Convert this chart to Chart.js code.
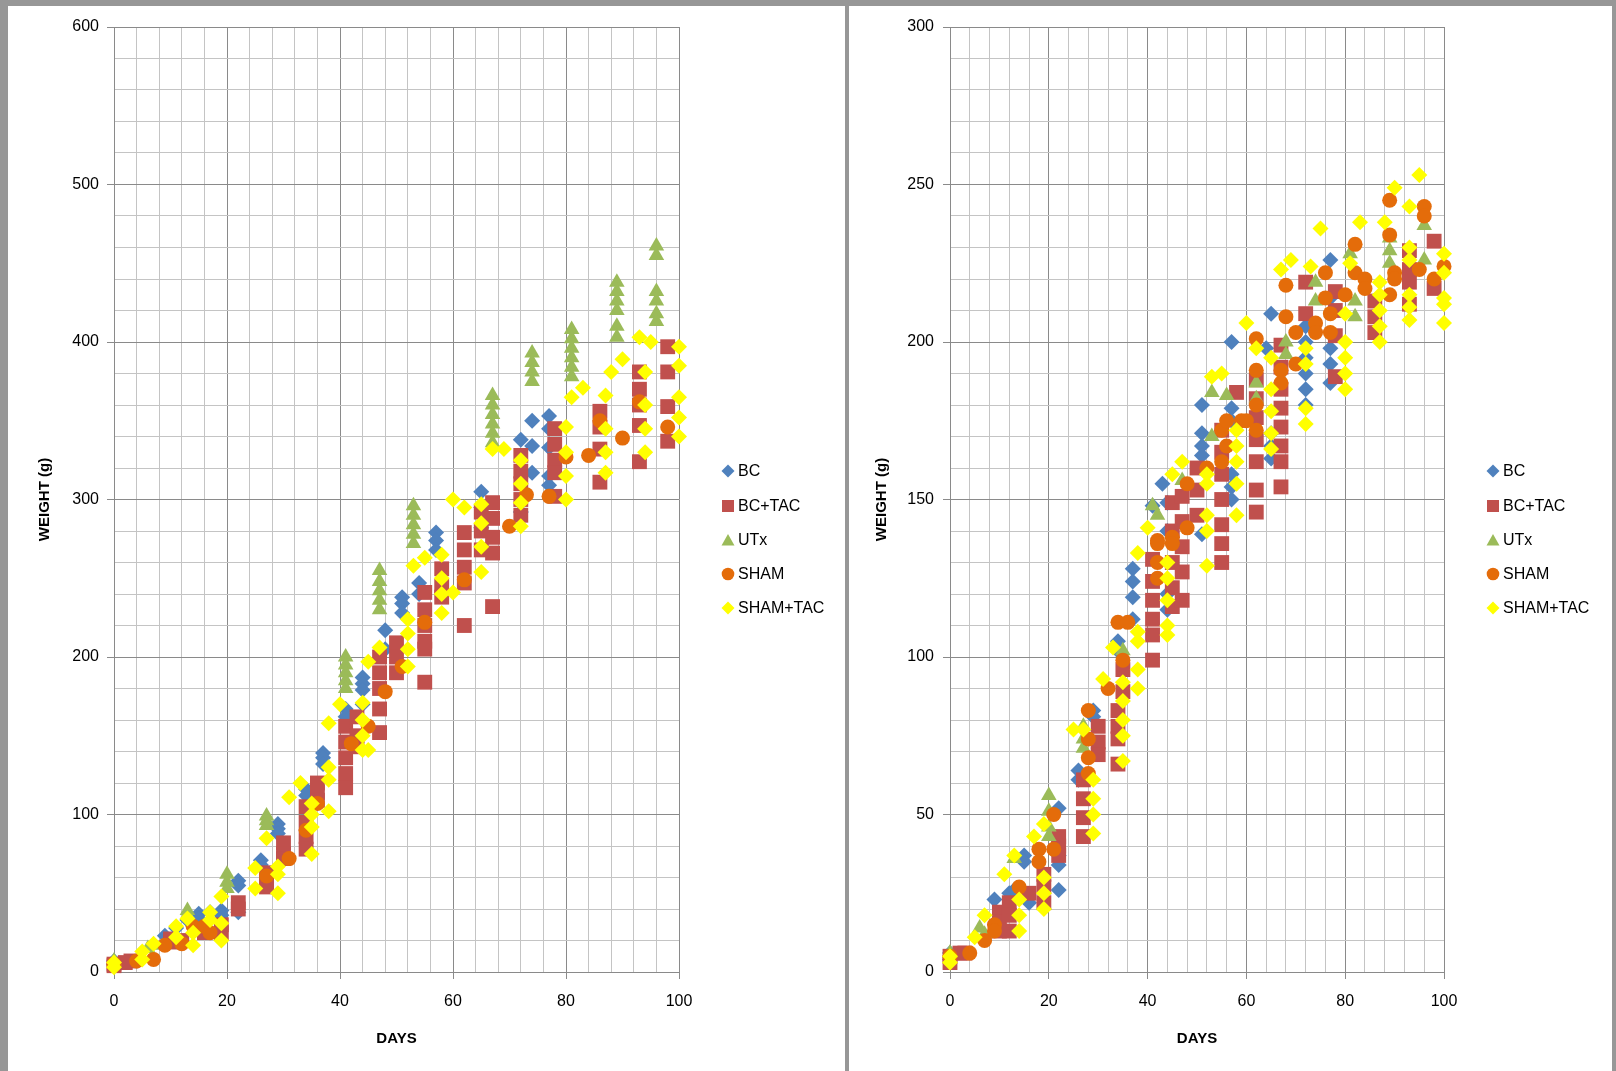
<!DOCTYPE html>
<html>
<head>
<meta charset="utf-8">
<script src="https://cdn.jsdelivr.net/npm/chart.js@4.4.1/dist/chart.umd.min.js"></script>
<style>
  body { margin: 0; background: #979797; width: 1616px; height: 1071px; overflow: hidden; font-family: "Liberation Sans", Arial, sans-serif; }
  .panel { position: absolute; background: #fff; }
  .legend { position: absolute; font-size: 16px; color: #000; }
  .legend .item { position: absolute; left: 0; height: 20px; line-height: 20px; white-space: nowrap; }
  .legend svg { position: absolute; left: -7px; top: 3px; }
  .legend span { position: absolute; left: 10px; }
</style>
</head>
<body>
<div class="panel" id="panelL" style="left:8px;top:6px;width:837px;height:1065px">
  <canvas id="chartL" width="837" height="1065"></canvas>
  <div class="legend" id="legendL" style="left:720px;top:0"></div>
</div>
<div class="panel" id="panelR" style="left:849px;top:6px;width:763px;height:1065px">
  <canvas id="chartR" width="763" height="1065"></canvas>
  <div class="legend" id="legendR" style="left:644px;top:0"></div>
</div>
<script>
// series names
const seriesNames = ['BC', 'BC+TAC', 'UTx', 'SHAM', 'SHAM+TAC'];

// left chart: [day, weight g]
const leftBC = [[0,5],[0,7],[9,23],[11,28],[13,33],[15,37],[15,34],[17,38],[19,39],[19,36],[22,58],[22,55],[22,38],
  [26,71],[26,68],[29,94],[29,91],[29,88],[34,116],[34,112],[35,108],[37,139],[37,136],[37,132],[41,167],[41,162],
  [44,187],[44,183],[44,179],[44,170],[48,217],[48,205],[51,238],[51,234],[51,228],[54,247],[54,240],[57,279],[57,274],
  [57,268],[65,305],[65,295],[65,282],[72,338],[72,292],[74,350],[74,334],[74,317],[77,353],[77,345],[77,333],[77,315],[77,309]];
const leftBCTAC = [[0,5],[0,4],[2,6],[3,7],[10,19],[10,21],[12,20],[16,27],[16,25],[19,25],[19,30],[22,44],[22,40],
  [27,63],[27,58],[27,54],[30,82],[30,75],[30,72],[34,105],[34,95],[34,86],[34,78],[36,120],[36,114],[36,109],
  [41,156],[41,146],[41,136],[41,126],[41,117],[43,162],[43,150],[43,143],[47,200],[47,190],[47,180],[47,167],[47,152],
  [50,209],[50,200],[50,190],[55,241],[55,230],[55,220],[55,210],[55,205],[55,184],[58,256],[58,245],[58,238],
  [62,279],[62,268],[62,257],[62,247],[62,220],[65,292],[65,280],[65,268],[67,298],[67,288],[67,276],[67,266],[67,232],
  [72,328],[72,318],[72,310],[72,300],[72,290],[78,345],[78,335],[78,325],[78,317],[78,302],[86,356],[86,346],[86,332],[86,311],
  [93,381],[93,370],[93,360],[93,347],[93,324],[98,397],[98,381],[98,359],[98,337]];
const leftUTx = [[0,7],[6,15],[7,17],[13,39],[13,36],[20,62],[20,57],[20,53],[27,99],[27,96],[27,93],
  [41,200],[41,195],[41,190],[41,185],[41,180],[47,255],[47,248],[47,242],[47,236],[47,230],
  [53,296],[53,290],[53,284],[53,278],[53,272],[67,366],[67,360],[67,354],[67,348],[67,342],[67,336],
  [74,393],[74,387],[74,381],[74,375],[81,408],[81,402],[81,396],[81,390],[81,384],[81,378],
  [89,438],[89,432],[89,426],[89,420],[89,410],[89,403],[96,461],[96,455],[96,432],[96,426],[96,418],[96,413]];
const leftSHAM = [[0,5],[4,7],[7,8],[9,17],[12,18],[14,29],[16,29],[17,25],[27,61],[31,72],[34,90],[36,107],
  [42,145],[45,156],[48,178],[51,194],[55,222],[62,249],[70,283],[73,303],[77,302],[80,327],[84,328],[86,350],
  [90,339],[93,362],[98,346]];
const leftShamTac = [[0,3],[0,6],[5,8],[5,13],[7,18],[11,22],[11,29],[13,34],[14,25],[14,17],[17,38],[17,33],
  [19,48],[19,31],[19,20],[25,66],[25,53],[27,85],[29,67],[29,62],[29,50],[31,111],[33,120],[35,107],[35,100],
  [35,92],[35,75],[38,158],[38,130],[38,122],[38,102],[40,170],[44,171],[44,160],[44,150],[44,141],[45,197],
  [45,141],[47,206],[52,224],[52,215],[52,205],[52,194],[53,258],[55,263],[58,265],[58,250],[58,240],[58,228],
  [60,300],[60,241],[62,295],[65,297],[65,285],[65,270],[65,254],[67,332],[69,332],[72,325],[72,310],[72,298],
  [72,283],[80,346],[80,330],[80,315],[80,300],[81,365],[83,371],[87,366],[87,345],[87,330],[87,317],[88,381],
  [90,389],[93,403],[95,400],[94,381],[94,360],[94,345],[94,330],[100,397],[100,385],[100,365],[100,352],[100,340]];

// right chart: [day, weight g]
const rightBC = [[0,4],[0,6],[9,23],[12,25],[13,26],[15,37],[15,35],[16,22],[22,52],[22,37],[22,34],[22,26],
  [26,64],[26,61],[29,83],[29,81],[34,105],[34,102],[37,128],[37,124],[37,119],[37,112],[41,148],[43,155],
  [44,149],[44,140],[44,120],[44,115],[51,180],[51,171],[51,167],[51,164],[51,139],[57,200],[57,179],[57,175],
  [57,158],[57,154],[57,150],[64,198],[65,209],[65,171],[65,167],[65,163],[72,205],[72,200],[72,195],[72,190],
  [72,185],[72,180],[77,226],[77,214],[77,198],[77,193],[77,187]];
const rightBCTAC = [[0,5],[0,3],[2,6],[3,6],[10,19],[10,16],[10,13],[12,22],[12,18],[12,13],[16,25],[19,31],[19,27],
  [19,22],[22,43],[22,40],[22,37],[27,61],[27,55],[27,49],[27,43],[30,78],[30,73],[30,69],[34,83],[34,78],[34,74],
  [34,66],[35,96],[35,89],[41,131],[41,124],[41,118],[41,112],[41,107],[41,99],[45,149],[45,140],[45,130],[45,122],
  [45,116],[47,151],[47,143],[47,135],[47,127],[47,118],[50,160],[50,153],[50,145],[55,172],[55,165],[55,158],
  [55,150],[55,142],[55,136],[55,130],[58,184],[62,188],[62,182],[62,176],[62,169],[62,162],[62,153],[62,146],
  [67,199],[67,192],[67,185],[67,179],[67,173],[67,167],[67,162],[67,154],[72,219],[72,209],[78,216],[78,210],
  [78,202],[78,189],[86,213],[86,208],[86,203],[93,229],[93,223],[93,219],[93,212],[98,232],[98,217]];
const rightUTx = [[0,6],[6,14],[7,12],[13,36],[20,56],[20,51],[20,46],[20,43],[27,78],[27,74],[27,71],[35,102],
  [41,148],[42,145],[47,156],[53,184],[53,170],[56,183],[62,187],[62,182],[68,200],[68,196],[74,219],[74,213],
  [81,228],[82,213],[82,208],[89,233],[89,229],[89,225],[96,237],[96,226]];
const rightSHAM = [[0,5],[4,6],[7,10],[9,15],[9,13],[14,27],[18,39],[18,35],[21,50],[21,39],[28,83],[28,74],[28,68],
  [28,63],[32,90],[34,111],[36,111],[35,99],[42,137],[42,136],[42,130],[42,125],[45,138],[45,136],[48,155],[48,141],
  [52,160],[55,172],[56,175],[56,167],[55,162],[59,175],[60,175],[62,201],[62,191],[62,180],[62,172],[67,191],[67,187],
  [68,218],[68,208],[70,203],[70,193],[74,206],[74,203],[76,222],[76,214],[77,209],[77,203],[80,215],[82,231],
  [82,222],[84,220],[84,217],[89,245],[89,234],[89,215],[90,222],[90,220],[95,223],[96,243],[96,240],[98,220],[100,224]];
const rightShamTac = [[0,3],[0,5],[5,11],[7,18],[11,31],[13,37],[14,23],[14,18],[14,13],[17,43],[19,47],[19,30],
  [19,25],[19,20],[25,77],[27,77],[29,61],[29,55],[29,50],[29,44],[31,93],[33,103],[35,80],[35,75],[35,67],[35,92],
  [35,86],[38,133],[38,108],[38,105],[38,96],[38,90],[40,141],[44,130],[44,125],[44,118],[44,110],[44,107],[45,158],
  [47,162],[52,158],[52,155],[52,145],[52,140],[52,129],[53,189],[55,190],[58,172],[58,167],[58,162],[58,155],
  [58,145],[60,206],[62,198],[65,195],[65,185],[65,178],[65,171],[65,166],[67,223],[69,226],[72,198],[72,193],
  [72,179],[72,174],[73,224],[75,236],[80,200],[80,195],[80,190],[80,185],[80,209],[81,225],[83,238],[87,219],
  [87,215],[87,210],[87,205],[87,200],[88,238],[90,249],[93,243],[93,230],[93,226],[93,215],[93,211],[93,207],
  [95,253],[100,228],[100,222],[100,214],[100,212],[100,206]];

const xTicksMax = 100;

// look
const colors = ['#4F81BD', '#C0504D', '#9BBB59', '#E46C0A', '#FFFF00'];
const shapes = ['rectRot', 'rect', 'triangle', 'circle', 'rectRot'];
const radii = [8, 10.5, 9, 7.5, 8];
const majorGrid = '#8a8a8a';
const minorGrid = '#c4c4c4';
const tickFont = { family: '"Liberation Sans", Arial, sans-serif', size: 16 };
const titleFont = { family: '"Liberation Sans", Arial, sans-serif', size: 15, weight: 'bold' };

function toPoints(arr) {
  return arr.map(function(p) { return { x: p[0], y: p[1] }; });
}

function buildDatasets(groups) {
  return groups.map(function(g, i) {
    return {
      label: seriesNames[i],
      data: toPoints(g),
      pointStyle: shapes[i],
      pointRadius: radii[i],
      pointBackgroundColor: colors[i],
      pointBorderWidth: 0,
      pointBorderColor: colors[i],
      showLine: false,
      clip: false,
      order: 5 - i   // last series drawn on top, like Excel
    };
  });
}

function makeChart(id, groups, yMax, yMinor, yMajor, yAxisWidth, yTitlePad, yTickPad, rightPad) {
  const ctx = document.getElementById(id).getContext('2d');
  return new Chart(ctx, {
    type: 'scatter',
    data: { datasets: buildDatasets(groups) },
    options: {
      responsive: false,
      animation: false,
      events: [],
      layout: { padding: { top: 21, right: rightPad, bottom: 0, left: 0 } },
      plugins: { legend: { display: false }, tooltip: { enabled: false } },
      scales: {
        x: {
          type: 'linear', min: 0, max: xTicksMax,
          afterFit: function(s) { s.height = 99; },
          ticks: {
            stepSize: 4, autoSkip: false, maxRotation: 0, padding: 13,
            color: '#000', font: tickFont,
            callback: function(v) { return v % 20 === 0 ? v : ''; }
          },
          grid: {
            tickLength: 7, lineWidth: 1,
            color: function(c) { return c.tick && c.tick.value % 20 === 0 ? majorGrid : minorGrid; },
            tickColor: function(c) { return c.tick && c.tick.value % 20 === 0 ? majorGrid : 'rgba(0,0,0,0)'; }
          },
          border: { color: majorGrid },
          title: { display: true, text: 'DAYS', color: '#000', font: titleFont, padding: { top: 0, bottom: 23 } }
        },
        y: {
          type: 'linear', min: 0, max: yMax,
          afterFit: function(s) { s.width = yAxisWidth; },
          ticks: {
            stepSize: yMinor, autoSkip: false, padding: yTickPad,
            color: '#000', font: tickFont,
            callback: function(v) { return v % yMajor === 0 ? v : ''; }
          },
          grid: {
            tickLength: 7, lineWidth: 1,
            color: function(c) { return c.tick && c.tick.value % yMajor === 0 ? majorGrid : minorGrid; },
            tickColor: function(c) { return c.tick && c.tick.value % yMajor === 0 ? majorGrid : 'rgba(0,0,0,0)'; }
          },
          border: { color: majorGrid },
          title: { display: true, text: 'WEIGHT (g)', color: '#000', font: titleFont, padding: { top: yTitlePad, bottom: 0 } }
        }
      }
    }
  });
}

function markerSvg(i) {
  const c = colors[i];
  let shape;
  if (shapes[i] === 'rectRot') shape = '<polygon points="7,0.5 13.5,7 7,13.5 0.5,7" fill="' + c + '"/>';
  else if (shapes[i] === 'rect') shape = '<rect x="1" y="1" width="12" height="12" fill="' + c + '"/>';
  else if (shapes[i] === 'triangle') shape = '<polygon points="7,1 13.5,12.5 0.5,12.5" fill="' + c + '"/>';
  else shape = '<circle cx="7" cy="7" r="6.3" fill="' + c + '"/>';
  return '<svg width="14" height="14" viewBox="0 0 14 14">' + shape + '</svg>';
}

function buildLegend(id) {
  const rows = [465, 500, 534, 568, 602];
  let html = '';
  seriesNames.forEach(function(name, i) {
    html += '<div class="item" style="top:' + (rows[i] - 10) + 'px">' + markerSvg(i) + '<span>' + name + '</span></div>';
  });
  document.getElementById(id).innerHTML = html;
}

makeChart('chartL', [leftBC, leftBCTAC, leftUTx, leftSHAM, leftShamTac], 600, 20, 100, 106, 28, 8, 166);
makeChart('chartR', [rightBC, rightBCTAC, rightUTx, rightSHAM, rightShamTac], 300, 10, 50, 101, 24, 9, 168);
buildLegend('legendL');
buildLegend('legendR');
</script>
</body>
</html>
